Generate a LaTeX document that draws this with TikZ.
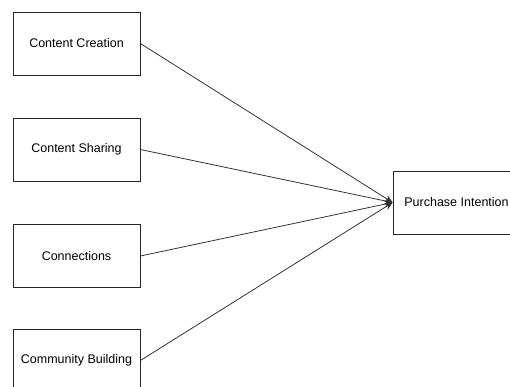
\documentclass[tikz,border=0pt]{standalone}
\usepackage{fontspec}
\setmainfont{Liberation Sans}
\usetikzlibrary{arrows.meta}

\tikzset{
	factor/.style={draw=black!85, line width=0.8pt, fill=white, minimum width=127pt, minimum height=63pt, inner sep=0pt, font=\fontsize{12.5}{14}\selectfont},
	link/.style={draw=black!80, line width=0.8pt, -{Stealth[length=8pt,width=7pt]}}
}

\begin{document}
\begin{tikzpicture}[x=1pt,y=-1pt]
	\useasboundingbox (0,0) rectangle (510,386);
	\clip (0,0) rectangle (510,386);
	
	\node[factor] (creation) at (76.5,43.5) {Content Creation};
	\node[factor] (sharing) at (76.5,149.5) {Content Sharing};
	\node[factor] (connect) at (76.5,256) {Connections};
	\node[factor] (community) at (76.5,360.5) {Community Building};
	
	\node[factor] (purchase) at (456.5,202.5) {Purchase Intention};
	
	\path[link] (creation.east) -- (purchase.west);
	\path[link] (sharing.east) -- (purchase.west);
	\path[link] (connect.east) -- (purchase.west);
	\path[link] (community.east) -- (purchase.west);
\end{tikzpicture}
\end{document}
